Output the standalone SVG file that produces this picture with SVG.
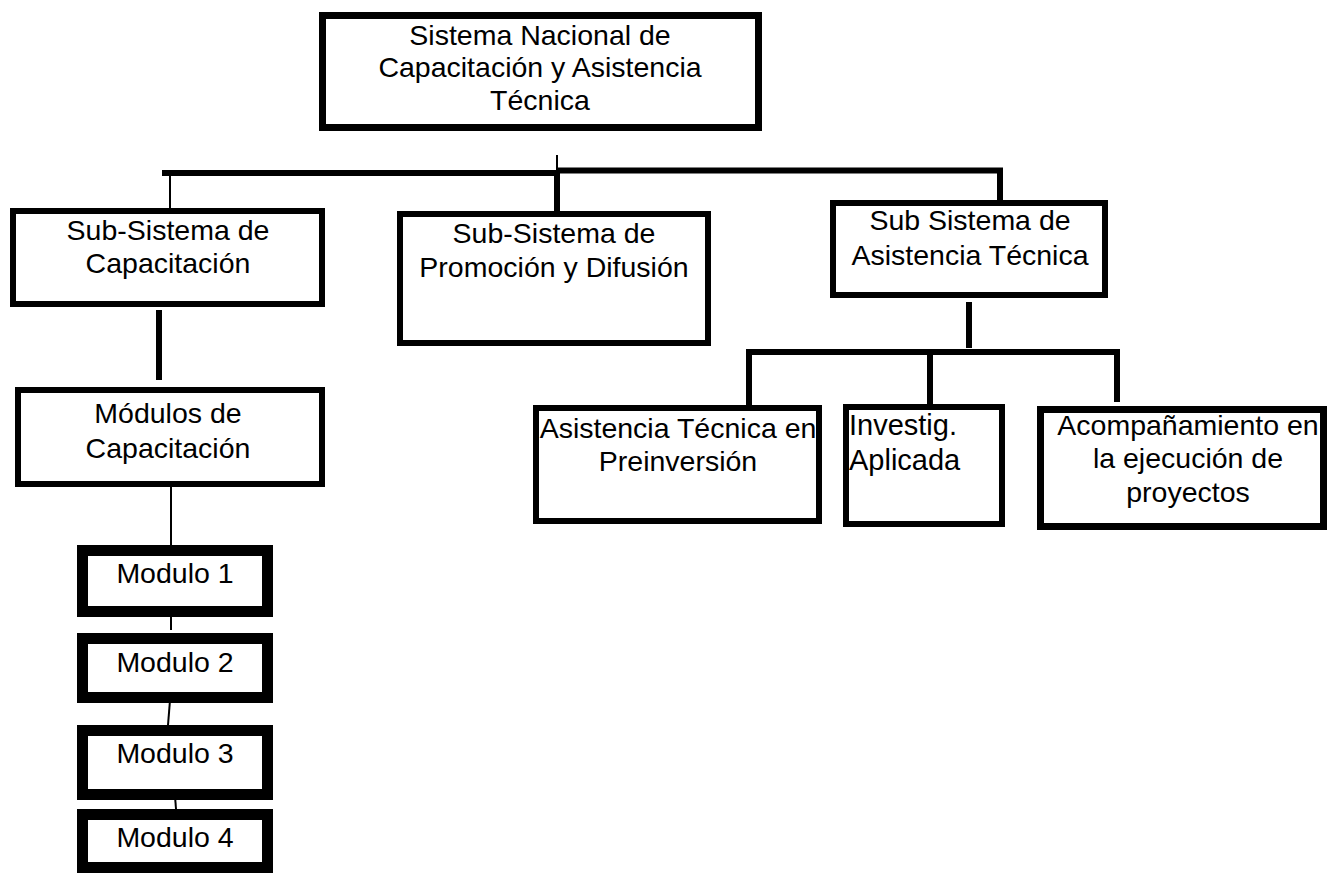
<svg xmlns="http://www.w3.org/2000/svg" width="1327" height="875" viewBox="0 0 1327 875">
<style>
.box{fill:#fff;stroke:#000;stroke-width:6}
.mod{fill:#fff;stroke:#000;stroke-width:11}
.t{font-family:"Liberation Sans",Arial,sans-serif;font-size:28.5px;fill:#000;text-anchor:middle}
.tl{font-family:"Liberation Sans",Arial,sans-serif;font-size:29px;fill:#000;text-anchor:start}
.thick{stroke:#000;stroke-width:6;fill:none}
.thin{stroke:#000;stroke-width:2;fill:none}
</style>
<rect width="1327" height="875" fill="#fff"/>
<g id="connectors">
<line class="thin" x1="557" y1="155" x2="557" y2="172"/>
<line class="thick" x1="162" y1="173" x2="557" y2="173"/>
<line class="thick" x1="557" y1="170.5" x2="1003" y2="170.5"/>
<line class="thin" x1="170" y1="173" x2="170" y2="209"/>
<line class="thick" x1="557" y1="170" x2="557" y2="212"/>
<line class="thick" x1="1000" y1="170" x2="1000" y2="201"/>
<line class="thick" x1="159" y1="310" x2="159" y2="380"/>
<line class="thin" x1="171" y1="487" x2="171" y2="546"/>
<line class="thin" x1="171" y1="603" x2="171" y2="630"/>
<line class="thin" x1="171" y1="688" x2="168" y2="725"/>
<line class="thin" x1="174" y1="783" x2="176" y2="809"/>
<line class="thick" x1="969" y1="302" x2="969" y2="348"/>
<line class="thick" x1="746" y1="352" x2="1120" y2="352"/>
<line class="thick" x1="749" y1="352" x2="749" y2="406"/>
<line class="thick" x1="930" y1="352" x2="930" y2="405"/>
<line class="thick" x1="1117" y1="352" x2="1117" y2="402"/>
</g>
<g id="root">
<rect class="box" x="322.5" y="15.5" width="436" height="112" style="stroke-width:7"/>
<text class="t" x="540" y="45">Sistema Nacional de</text>
<text class="t" x="540" y="77">Capacitación y Asistencia</text>
<text class="t" x="540" y="110">Técnica</text>
</g>
<g id="sub-capacitacion">
<rect class="box" x="13" y="211" width="309" height="93"/>
<text class="t" x="168" y="240">Sub-Sistema de</text>
<text class="t" x="168" y="273">Capacitación</text>
</g>
<g id="sub-promocion">
<rect class="box" x="400" y="214" width="308" height="129"/>
<text class="t" x="554" y="243">Sub-Sistema de</text>
<text class="t" x="554" y="277">Promoción y Difusión</text>
</g>
<g id="sub-asistencia">
<rect class="box" x="833" y="203" width="272" height="92"/>
<text class="t" x="970" y="230">Sub Sistema de</text>
<text class="t" x="970" y="265">Asistencia Técnica</text>
</g>
<g id="modulos">
<rect class="box" x="18" y="390" width="304" height="94"/>
<text class="t" x="168" y="423">Módulos de</text>
<text class="t" x="168" y="458">Capacitación</text>
</g>
<g id="modulo1">
<rect class="mod" x="82.5" y="550.5" width="185" height="61"/>
<text class="t" x="175" y="583">Modulo 1</text>
</g>
<g id="modulo2">
<rect class="mod" x="82.5" y="638.5" width="185" height="59"/>
<text class="t" x="175" y="672">Modulo 2</text>
</g>
<g id="modulo3">
<rect class="mod" x="82.5" y="730.5" width="185" height="64"/>
<text class="t" x="175" y="763">Modulo 3</text>
</g>
<g id="modulo4">
<rect class="mod" x="82.5" y="814.5" width="185" height="53"/>
<text class="t" x="175" y="847">Modulo 4</text>
</g>
<g id="preinversion">
<rect class="box" x="536" y="408" width="283" height="113"/>
<text class="t" x="678" y="438">Asistencia Técnica en</text>
<text class="t" x="678" y="471">Preinversión</text>
</g>
<g id="investigacion">
<rect class="box" x="846" y="407" width="156" height="117"/>
<text class="tl" x="849" y="435">Investig.</text>
<text class="tl" x="849" y="470">Aplicada</text>
</g>
<g id="acompanamiento">
<rect class="box" x="1040.5" y="409.5" width="283" height="117" style="stroke-width:7"/>
<text class="t" x="1188" y="435">Acompañamiento en</text>
<text class="t" x="1188" y="468">la ejecución de</text>
<text class="t" x="1188" y="502">proyectos</text>
</g>
</svg>
